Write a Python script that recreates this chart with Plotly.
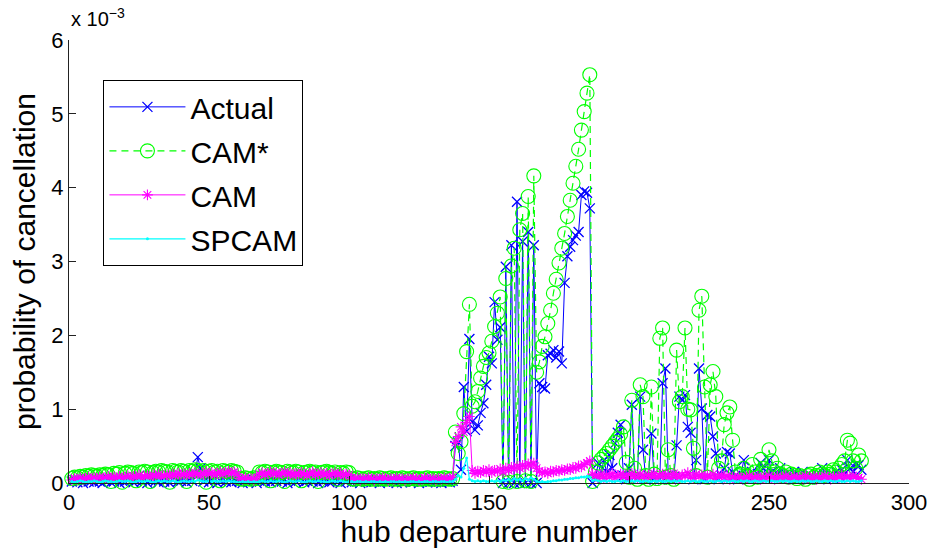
import numpy as np
import plotly.graph_objects as go

# Probability of cancellation per hub departure, values in units of 1e-3.
# Departures 1-137
actual_early = [
    0.02, 0.04, 0.01, 0.03, 0.00, 0.05, 0.02, 0.03, 0.01, 0.04,
    0.02, 0.00, 0.03, 0.05, 0.01, 0.02, 0.06, 0.00, 0.03, 0.02,
    0.04, 0.08, 0.01, 0.03, 0.10, 0.02, 0.05, 0.00, 0.04, 0.06,
    0.03, 0.01, 0.07, 0.02, 0.05, 0.00, 0.04, 0.09, 0.02, 0.03,
    0.05, 0.01, 0.06, 0.03, 0.12, 0.35, 0.20, 0.02, 0.05, 0.01,
    0.04, 0.06, 0.00, 0.03, 0.05, 0.02, 0.07, 0.01, 0.04, 0.03,
    0.02, 0.00, 0.03, 0.01, 0.02, 0.04, 0.00, 0.03, 0.05, 0.02,
    0.06, 0.01, 0.04, 0.03, 0.08, 0.02, 0.05, 0.00, 0.03, 0.06,
    0.02, 0.04, 0.10, 0.01, 0.03, 0.05, 0.02, 0.07, 0.00, 0.04,
    0.03, 0.05, 0.01, 0.02, 0.06, 0.03, 0.00, 0.04, 0.02, 0.05,
    0.01, 0.03, 0.02, 0.00, 0.04, 0.02, 0.03, 0.01, 0.02, 0.04,
    0.00, 0.03, 0.02, 0.01, 0.04, 0.02, 0.00, 0.03, 0.01, 0.02,
    0.03, 0.01, 0.02, 0.04, 0.00, 0.02, 0.03, 0.01, 0.02, 0.03,
    0.01, 0.02, 0.00, 0.03, 0.02, 0.01, 0.03,
]
camstar_early = [
    0.06, 0.08, 0.07, 0.09, 0.08, 0.10, 0.09, 0.11, 0.10, 0.09,
    0.11, 0.10, 0.12, 0.11, 0.02, 0.13, 0.12, 0.14, 0.01, 0.13,
    0.15, 0.14, 0.13, 0.03, 0.15, 0.14, 0.16, 0.15, 0.02, 0.14,
    0.16, 0.15, 0.17, 0.16, 0.15, 0.01, 0.17, 0.16, 0.15, 0.17,
    0.16, 0.02, 0.17, 0.16, 0.18, 0.17, 0.15, 0.17, 0.01, 0.16,
    0.17, 0.15, 0.16, 0.03, 0.17, 0.16, 0.15, 0.17, 0.16, 0.15,
    0.06, 0.05, 0.07, 0.06, 0.05, 0.07, 0.06, 0.15, 0.14, 0.16,
    0.15, 0.03, 0.14, 0.16, 0.15, 0.14, 0.02, 0.16, 0.15, 0.14,
    0.16, 0.15, 0.03, 0.14, 0.15, 0.16, 0.14, 0.15, 0.02, 0.14,
    0.15, 0.16, 0.14, 0.13, 0.15, 0.05, 0.14, 0.13, 0.15, 0.14,
    0.06, 0.05, 0.07, 0.06, 0.05, 0.06, 0.07, 0.05, 0.06, 0.05,
    0.07, 0.06, 0.05, 0.06, 0.07, 0.05, 0.06, 0.05, 0.07, 0.06,
    0.05, 0.06, 0.07, 0.05, 0.06, 0.05, 0.06, 0.07, 0.05, 0.06,
    0.05, 0.06, 0.05, 0.07, 0.06, 0.05, 0.06,
]
cam_early = [
    0.04, 0.06, 0.05, 0.07, 0.05, 0.06, 0.08, 0.05, 0.07, 0.06,
    0.08, 0.06, 0.07, 0.09, 0.06, 0.08, 0.07, 0.09, 0.06, 0.08,
    0.10, 0.07, 0.09, 0.08, 0.11, 0.07, 0.09, 0.10, 0.08, 0.11,
    0.09, 0.12, 0.08, 0.10, 0.11, 0.09, 0.12, 0.10, 0.13, 0.11,
    0.12, 0.10, 0.13, 0.11, 0.14, 0.12, 0.10, 0.13, 0.15, 0.12,
    0.14, 0.11, 0.13, 0.15, 0.12, 0.14, 0.16, 0.13, 0.15, 0.12,
    0.06, 0.05, 0.07, 0.05, 0.06, 0.04, 0.07, 0.12, 0.14, 0.11,
    0.13, 0.15, 0.12, 0.14, 0.11, 0.13, 0.15, 0.12, 0.14, 0.10,
    0.13, 0.11, 0.14, 0.12, 0.10, 0.13, 0.15, 0.11, 0.12, 0.14,
    0.11, 0.13, 0.10, 0.12, 0.14, 0.11, 0.13, 0.10, 0.12, 0.11,
    0.06, 0.05, 0.07, 0.04, 0.06, 0.05, 0.07, 0.06, 0.04, 0.06,
    0.05, 0.07, 0.06, 0.04, 0.06, 0.05, 0.07, 0.05, 0.06, 0.04,
    0.06, 0.05, 0.07, 0.06, 0.04, 0.05, 0.07, 0.06, 0.05, 0.06,
    0.04, 0.06, 0.05, 0.07, 0.05, 0.06, 0.08,
]
spcam_early = [
    0.02, 0.01, 0.02, 0.03, 0.02, 0.01, 0.02, 0.02, 0.03, 0.02,
    0.01, 0.02, 0.03, 0.02, 0.02, 0.01, 0.02, 0.03, 0.02, 0.02,
    0.03, 0.02, 0.01, 0.02, 0.03, 0.02, 0.02, 0.03, 0.02, 0.01,
    0.02, 0.03, 0.02, 0.03, 0.02, 0.02, 0.03, 0.02, 0.01, 0.02,
    0.03, 0.02, 0.02, 0.03, 0.02, 0.04, 0.03, 0.02, 0.02, 0.03,
    0.02, 0.03, 0.02, 0.02, 0.03, 0.02, 0.03, 0.02, 0.02, 0.01,
    0.01, 0.02, 0.01, 0.02, 0.01, 0.02, 0.01, 0.02, 0.03, 0.02,
    0.02, 0.03, 0.02, 0.02, 0.03, 0.02, 0.01, 0.02, 0.03, 0.02,
    0.02, 0.03, 0.02, 0.01, 0.02, 0.03, 0.02, 0.02, 0.03, 0.02,
    0.02, 0.01, 0.02, 0.03, 0.02, 0.02, 0.03, 0.02, 0.01, 0.02,
    0.02, 0.01, 0.02, 0.02, 0.01, 0.02, 0.01, 0.02, 0.02, 0.01,
    0.02, 0.01, 0.02, 0.01, 0.02, 0.02, 0.01, 0.02, 0.01, 0.02,
    0.01, 0.02, 0.02, 0.01, 0.02, 0.01, 0.02, 0.02, 0.01, 0.02,
    0.02, 0.01, 0.02, 0.02, 0.01, 0.02, 0.02,
]

# Departures 138-187
actual_peak = [
    0.50, 0.55, 0.18, 1.30, 0.70, 1.95, 0.83, 0.72, 0.78, 0.95,
    1.08, 1.33, 1.71, 1.62, 2.45, 1.94, 2.11, 0.00, 2.93, 0.00,
    3.22, 0.00, 3.81, 0.00, 3.27, 0.00, 3.40, 0.00, 3.22, 0.00,
    1.35, 1.30, 1.28, 1.73, 1.75, 1.80, 1.70, 1.78, 1.62, 2.71,
    3.07, 3.20, 3.29, 3.35, 3.40, 3.90, 3.95, 3.93, 3.72, 0.00,
]
camstar_peak = [
    0.69, 0.40, 0.56, 0.94, 1.78, 2.42, 1.04, 1.10, 1.24, 1.42,
    1.58, 1.70, 1.76, 1.92, 2.12, 2.30, 2.52, 0.02, 2.77, 0.01,
    2.94, 3.18, 0.02, 3.43, 3.65, 0.03, 3.88, 0.02, 4.16, 1.50,
    1.64, 1.85, 1.98, 2.16, 2.34, 2.57, 2.76, 2.98, 3.18, 3.38,
    3.61, 3.83, 4.06, 4.29, 4.52, 4.78, 5.03, 5.28, 5.53, 0.02,
]
cam_peak = [
    0.55, 0.63, 0.76, 0.69, 0.82, 0.90, 0.17, 0.13, 0.16, 0.14,
    0.17, 0.15, 0.18, 0.14, 0.17, 0.16, 0.19, 0.15, 0.20, 0.17,
    0.21, 0.19, 0.23, 0.20, 0.24, 0.22, 0.26, 0.24, 0.27, 0.20,
    0.16, 0.14, 0.15, 0.13, 0.16, 0.15, 0.17, 0.16, 0.18, 0.17,
    0.19, 0.18, 0.21, 0.20, 0.23, 0.22, 0.25, 0.27, 0.30, 0.12,
]
spcam_peak = [
    0.05, 0.10, 0.08, 0.20, 0.34, 0.05, 0.03, 0.02, 0.03, 0.02,
    0.03, 0.02, 0.02, 0.03, 0.02, 0.03, 0.02, 0.04, 0.03, 0.05,
    0.03, 0.06, 0.04, 0.05, 0.03, 0.06, 0.04, 0.07, 0.05, 0.02,
    0.01, 0.02, 0.01, 0.02, 0.02, 0.03, 0.03, 0.04, 0.04, 0.05,
    0.05, 0.06, 0.06, 0.07, 0.07, 0.08, 0.08, 0.09, 0.08, 0.03,
]

# Departures 188-283
actual_late = [
    0.05, 0.27, 0.12, 0.31, 0.15, 0.38, 0.20, 0.54, 0.68, 0.79,
    0.10, 0.05, 0.20, 1.06, 0.08, 0.05, 1.17, 0.45, 0.05, 0.10,
    0.67, 0.05, 0.08, 0.05, 1.35, 1.55, 0.10, 0.05, 0.08, 0.51,
    1.17, 1.12, 1.19, 0.76, 0.68, 0.05, 0.31, 1.55, 1.01, 0.05,
    0.92, 0.90, 0.63, 0.40, 0.05, 0.10, 0.20, 0.42, 0.40, 0.15,
    0.10, 0.05, 0.12, 0.31, 0.10, 0.05, 0.15, 0.08, 0.12, 0.27,
    0.20, 0.10, 0.31, 0.15, 0.08, 0.12, 0.20, 0.10, 0.06, 0.12,
    0.08, 0.15, 0.05, 0.10, 0.15, 0.08, 0.05, 0.10, 0.07, 0.12,
    0.05, 0.20, 0.10, 0.08, 0.12, 0.06, 0.15, 0.10, 0.18, 0.12,
    0.31, 0.20, 0.15, 0.25, 0.24, 0.18,
]
camstar_late = [
    0.15, 0.27, 0.32, 0.36, 0.40, 0.45, 0.50, 0.55, 0.60, 0.66,
    0.76, 0.28, 0.08, 1.12, 0.20, 0.05, 1.33, 1.17, 0.10, 0.05,
    1.30, 0.12, 0.06, 1.96, 2.10, 0.08, 0.45, 0.10, 0.05, 1.80,
    1.10, 1.17, 2.10, 1.00, 0.99, 0.47, 0.10, 2.34, 2.53, 1.30,
    0.08, 1.33, 1.51, 1.17, 0.20, 0.30, 0.79, 0.95, 1.03, 0.58,
    0.15, 0.10, 0.12, 0.20, 0.10, 0.05, 0.25, 0.15, 0.08, 0.32,
    0.20, 0.12, 0.45, 0.30, 0.15, 0.20, 0.12, 0.10, 0.15, 0.08,
    0.12, 0.10, 0.06, 0.10, 0.08, 0.05, 0.10, 0.12, 0.08, 0.10,
    0.15, 0.12, 0.10, 0.15, 0.12, 0.18, 0.15, 0.20, 0.25, 0.30,
    0.58, 0.54, 0.30, 0.20, 0.38, 0.30,
]
cam_late = [
    0.10, 0.07, 0.12, 0.06, 0.11, 0.08, 0.13, 0.07, 0.10, 0.12,
    0.08, 0.11, 0.06, 0.13, 0.09, 0.07, 0.12, 0.10, 0.06, 0.11,
    0.09, 0.13, 0.07, 0.10, 0.12, 0.08, 0.11, 0.06, 0.13, 0.09,
    0.07, 0.11, 0.10, 0.14, 0.08, 0.06, 0.12, 0.09, 0.11, 0.07,
    0.10, 0.08, 0.12, 0.06, 0.09, 0.11, 0.07, 0.10, 0.05, 0.08,
    0.06, 0.09, 0.07, 0.05, 0.08, 0.10, 0.06, 0.07, 0.09, 0.05,
    0.08, 0.06, 0.10, 0.07, 0.05, 0.09, 0.06, 0.08, 0.10, 0.05,
    0.07, 0.09, 0.06, 0.08, 0.05, 0.10, 0.07, 0.06, 0.09, 0.05,
    0.08, 0.06, 0.10, 0.07, 0.05, 0.09, 0.06, 0.08, 0.11, 0.07,
    0.09, 0.06, 0.10, 0.08, 0.07, 0.05,
]
spcam_late = [
    0.04, 0.03, 0.02, 0.03, 0.02, 0.03, 0.02, 0.02, 0.03, 0.02,
    0.03, 0.02, 0.02, 0.03, 0.02, 0.03, 0.02, 0.02, 0.03, 0.02,
    0.02, 0.03, 0.02, 0.03, 0.02, 0.02, 0.03, 0.02, 0.03, 0.02,
    0.03, 0.02, 0.02, 0.03, 0.02, 0.03, 0.02, 0.02, 0.03, 0.02,
    0.02, 0.03, 0.02, 0.02, 0.03, 0.02, 0.03, 0.02, 0.02, 0.03,
    0.02, 0.02, 0.03, 0.02, 0.03, 0.02, 0.02, 0.03, 0.02, 0.02,
    0.03, 0.02, 0.02, 0.03, 0.02, 0.02, 0.03, 0.02, 0.03, 0.02,
    0.02, 0.03, 0.02, 0.02, 0.03, 0.02, 0.03, 0.02, 0.02, 0.03,
    0.02, 0.02, 0.03, 0.02, 0.03, 0.02, 0.02, 0.03, 0.02, 0.02,
    0.03, 0.02, 0.03, 0.02, 0.02, 0.03,
]

x_ticks = [0, 50, 100, 150, 200, 250, 300]
y_ticks = [0, 1, 2, 3, 4, 5, 6]
SCALE = 1e-3

FONT = "Liberation Sans, Arial, Helvetica, sans-serif"

series = [
    ("Actual", actual_early + actual_peak + actual_late,
     dict(color="#0000ff", width=1),
     dict(symbol="x-thin-open", size=10, color="#0000ff",
          line=dict(color="#0000ff", width=1.3))),
    ("CAM*", camstar_early + camstar_peak + camstar_late,
     dict(color="#00ff00", width=1.2, dash="7px,5px"),
     dict(symbol="circle-open", size=14, color="#00ff00",
          line=dict(color="#00ff00", width=1.1))),
    ("CAM", cam_early + cam_peak + cam_late,
     dict(color="#ff00ff", width=1),
     dict(symbol="asterisk-open", size=9, color="#ff00ff",
          line=dict(color="#ff00ff", width=1.1))),
    ("SPCAM", spcam_early + spcam_peak + spcam_late,
     dict(color="#00ffff", width=1.2),
     dict(symbol="circle", size=3, color="#00ffff",
          line=dict(width=0))),
]

fig = go.Figure()
for name, vals, line, marker in series:
    y = np.array(vals) * SCALE
    x = np.arange(1, len(y) + 1)
    fig.add_trace(go.Scatter(
        x=x, y=y, mode="lines+markers", name=name, legendgroup=name,
        line=line, marker=marker, cliponaxis=False,
    ))

axis_common = dict(
    showline=True, linecolor="#222222", linewidth=1,
    ticks="inside", ticklen=7, tickcolor="#222222", tickwidth=1,
    showgrid=False, zeroline=False, mirror=False,
    tickfont=dict(family=FONT, size=22, color="#000000"),
)

fig.update_layout(
    width=939, height=552,
    margin=dict(l=69, r=22, t=40, b=69),
    paper_bgcolor="white", plot_bgcolor="white",
    font=dict(family=FONT, color="#000000"),
    xaxis=dict(
        range=[0, 300], tickvals=x_ticks,
        title=dict(text="hub departure number",
                   font=dict(family=FONT, size=30), standoff=2),
        **axis_common,
    ),
    yaxis=dict(
        range=[0, 6 * SCALE],
        tickvals=[v * SCALE for v in y_ticks],
        ticktext=[str(v) for v in y_ticks],
        title=dict(text="probability of cancellation",
                   font=dict(family=FONT, size=30), standoff=6),
        **axis_common,
    ),
    legend=dict(
        x=0.041, y=0.91, xanchor="left", yanchor="top",
        bgcolor="white", bordercolor="#000000", borderwidth=1,
        font=dict(family=FONT, size=30, color="#000000"),
        itemwidth=76, tracegroupgap=2,
    ),
    showlegend=True,
)

fig.add_annotation(
    xref="paper", yref="paper", x=0.0, y=1.0,
    xanchor="left", yanchor="bottom", yshift=8, showarrow=False,
    text="x 10<sup>\u22123</sup>",
    font=dict(family=FONT, size=20, color="#000000"),
)

fig.write_html("out.html")
